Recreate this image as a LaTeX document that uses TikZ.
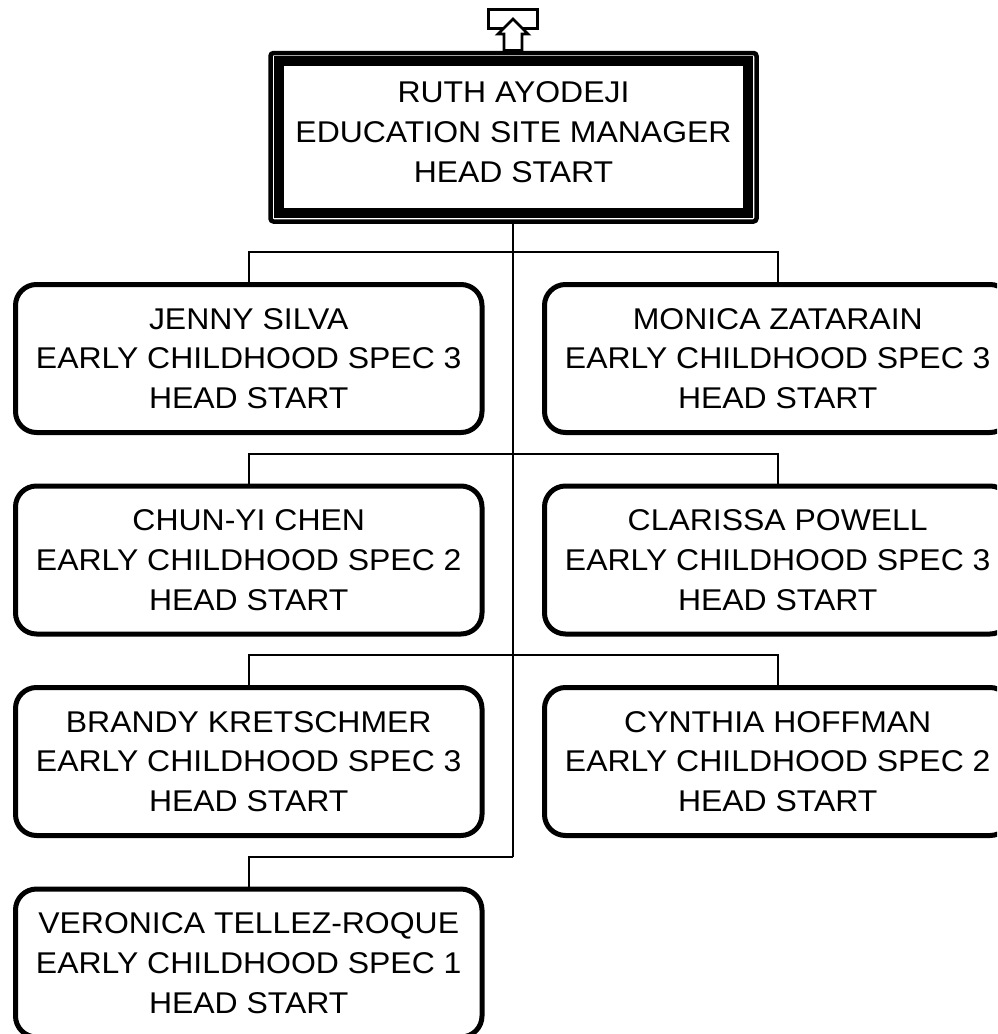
\documentclass[tikz,border=0pt]{standalone}
\usepackage{fontspec}
\setmainfont{Liberation Sans}[FakeStretch=1.065]
\begin{document}
\begin{tikzpicture}[
  x=1pt, y=-1pt,
  txt/.style={font=\fontsize{30pt}{39.7pt}\selectfont, align=center},
  emp/.style={draw, line width=5pt, rounded corners=21pt, minimum width=466.5pt, minimum height=148pt, inner sep=0pt, txt},
  topbox/.style={draw, line width=4.5pt, rounded corners=3pt, minimum width=486pt, minimum height=168.5pt, inner sep=0pt},
  conn/.style={line width=2pt},
  icon/.style={line width=2.7pt}
]
\clip (0,0) rectangle (997,1034);
\fill[white] (0,0) rectangle (997,1034);

% top box
\node[topbox] (top) at (513.5,137.25) {};
\node[txt] (toptext) at (513.5,132) {RUTH AYODEJI\\EDUCATION SITE MANAGER\\HEAD START};
\draw[line width=10pt] ([shift={(10.5,10.5)}]top.north west) rectangle ([shift={(-10.5,-10.5)}]top.south east);

% icon
\node[draw, icon, minimum width=49.4pt, minimum height=19pt, inner sep=0pt] (iconbox) at (513,18.8) {};
\draw[icon, fill=white] (513,19) -- (528,34) -- (522,34) -- (522,50.5) -- (504,50.5) -- (504,34) -- (498,34) -- cycle;

% employee boxes
\node[emp] (jenny) at (248.75,358.5) {JENNY SILVA\\EARLY CHILDHOOD SPEC 3\\HEAD START};
\node[emp] (monica) at (777.75,358.5) {MONICA ZATARAIN\\EARLY CHILDHOOD SPEC 3\\HEAD START};
\node[emp] (chun) at (248.75,560) {CHUN-YI CHEN\\EARLY CHILDHOOD SPEC 2\\HEAD START};
\node[emp] (clarissa) at (777.75,560) {CLARISSA POWELL\\EARLY CHILDHOOD SPEC 3\\HEAD START};
\node[emp] (brandy) at (248.75,761.5) {BRANDY KRETSCHMER\\EARLY CHILDHOOD SPEC 3\\HEAD START};
\node[emp] (cynthia) at (777.75,761.5) {CYNTHIA HOFFMAN\\EARLY CHILDHOOD SPEC 2\\HEAD START};
\node[emp] (veronica) at (248.75,963) {VERONICA TELLEZ-ROQUE\\EARLY CHILDHOOD SPEC 1\\HEAD START};

% connectors
\coordinate (t1) at (513,252);
\coordinate (t2) at (513,453.5);
\coordinate (t3) at (513,655);
\coordinate (t4) at (513,856.5);
\draw[conn] (top.south -| t1) -- (t4);
\draw[conn] (jenny.north) |- (t1) -| (monica.north);
\draw[conn] (chun.north) |- (t2) -| (clarissa.north);
\draw[conn] (brandy.north) |- (t3) -| (cynthia.north);
\draw[conn] (veronica.north) |- (t4);
\end{tikzpicture}
\end{document}
